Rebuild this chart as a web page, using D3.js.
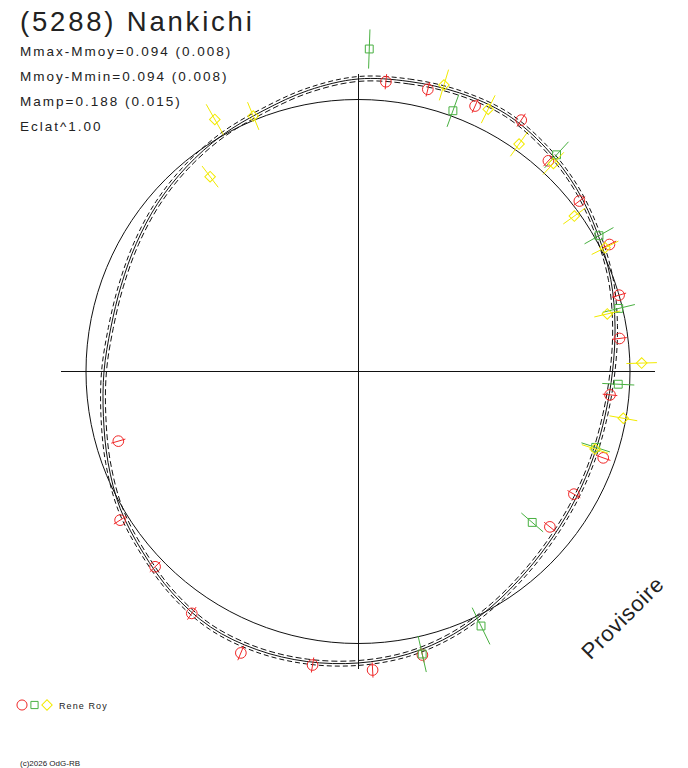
<!DOCTYPE html>
<html><head><meta charset="utf-8">
<script src="https://cdn.jsdelivr.net/npm/d3@7"></script>
<style>body{margin:0;background:#fff}svg{display:block}text{font-family:"Liberation Sans",Arial,sans-serif;fill:#222}</style>
</head><body><svg id="c" width="688" height="768"></svg>
<script>
// ---- data (angle in degrees from top, clockwise; value = relative brightness radius) ----
const fitAngles = [0,10,20,30,40,50,60,70,80,90,100,110,120,130,140,150,160,170,180,190,200,210,220,230,240,250,260,270,280,290,300,310,320,330,340,350];
const fitValues = [1.0754,1.0827,1.0901,1.0919,1.0735,1.0478,1.0165,0.9890,0.9596,0.9357,0.9228,0.9210,0.9265,0.9393,0.9614,0.9926,1.0276,1.0551,1.0717,1.0827,1.0882,1.0846,1.0625,1.0331,1.0092,0.9779,0.9504,0.9338,0.9228,0.9265,0.9412,0.9614,0.9816,1.0018,1.0202,1.0496];
const fitErr = 0.009;

const redAngles = [5.5,13.9,23.8,33.0,42.1,52.4,63.2,73.7,82.8,95.3,109.4,119.6,129.0,167.2,177.2,188.8,202.6,214.5,226.1,238.0,253.8];
const redValues = [1.0703,1.0687,1.0667,1.1019,1.0441,1.0272,1.0356,1.0000,0.9690,0.9305,0.9559,0.9129,0.9077,1.0688,1.0988,1.0919,1.1207,1.0790,1.0353,1.0313,0.9176];
const redErr    = [0.028,0.027,0.027,0.028,0.027,0.027,0.028,0.027,0.027,0.027,0.028,0.027,0.027,0.028,0.028,0.028,0.029,0.028,0.027,0.027,0.027];

const greenAngles = [2.0,20.0,42.5,60.6,76.4,92.8,107.7,130.9,154.2,167.2];
const greenValues = [1.1864,1.0202,1.0805,1.0170,0.9863,0.9580,0.9173,0.8474,1.0393,1.0651];
const greenErr    = [0.072,0.063,0.065,0.061,0.061,0.059,0.055,0.053,0.075,0.068];

const yellowAngles = [330.4,337.7,322.8,16.7,26.4,35.3,43.2,54.3,63.4,77.0,88.3,100.0,108.1];
const yellowValues = [1.0658,1.0151,0.8993,1.0997,1.0765,1.0246,1.0496,0.9794,1.0158,0.9406,1.0434,0.9904,0.9167];
const yellowErr    = [0.064,0.055,0.049,0.059,0.057,0.055,0.056,0.050,0.055,0.049,0.056,0.052,0.051];

const axisExtent = 1.093;
const title = "(5288) Nankichi";
const infoLines = ["Mmax-Mmoy=0.094 (0.008)","Mmoy-Mmin=0.094 (0.008)","Mamp=0.188 (0.015)","Eclat^1.00"];
const observer = "Rene Roy";
const stamp = "Provisoire";
const footer = "(c)2026 OdG-RB";

// ---- drawing ----
const cx = 358, cy = 371.5, R = 272;
const colors = {red:"#f02828", green:"#48b040", yellow:"#f2ea00"};
const svg = d3.select("#c");
const rScale = d3.scaleLinear().domain([0,1]).range([0,R]);
const aScale = d3.scaleLinear().domain([0,360]).range([0,2*Math.PI]);
const g = svg.append("g").attr("transform",`translate(${cx},${cy})`);

// axes
[[0,180],[90,270]].forEach(([a1,a2])=>{
  const p1 = d3.pointRadial(aScale(a1), rScale(axisExtent));
  const p2 = d3.pointRadial(aScale(a2), rScale(axisExtent));
  g.append("line").attr("x1",p1[0]).attr("y1",p1[1]).attr("x2",p2[0]).attr("y2",p2[1])
   .attr("stroke","#111").attr("stroke-width",1).attr("shape-rendering","crispEdges");
});

// reference circle
g.append("circle").attr("r", rScale(1)).attr("fill","none").attr("stroke","#111").attr("stroke-width",1);

// fit and envelope
const fit = fitAngles.map((a,i)=>({a, v:fitValues[i]}));
const radial = d3.lineRadial().angle(d=>aScale(d.a)).radius(d=>rScale(d.v)).curve(d3.curveCatmullRomClosed.alpha(0.5));
[fitErr, -fitErr].forEach((e,k)=>{
  g.append("path").datum(fit.map(d=>({a:d.a, v:d.v+e})))
   .attr("d", radial).attr("fill","none").attr("stroke","#111").attr("stroke-width",1)
   .attr("stroke-dasharray", k? "6,3":"5,3");
});
g.append("path").datum(fit).attr("d", radial).attr("fill","none").attr("stroke","#111").attr("stroke-width",1);

// data series
function series(angles, values, errs, color, type){
  const data = angles.map((a,i)=>({a, v:values[i], e:errs[i]}));
  const grp = g.append("g");
  data.forEach(d=>{
    const p1 = d3.pointRadial(aScale(d.a), rScale(d.v-d.e));
    const p2 = d3.pointRadial(aScale(d.a), rScale(d.v+d.e));
    grp.append("line").attr("x1",p1[0]).attr("y1",p1[1]).attr("x2",p2[0]).attr("y2",p2[1])
       .attr("stroke",color).attr("stroke-width",1);
  });
  grp.selectAll("path.m").data(data).join("path").attr("class","m")
    .attr("d", type==="circle" ? d3.symbol(d3.symbolCircle, 90)() : d3.symbol(d3.symbolSquare, type==="square"?62:56)())
    .attr("transform", d=>{ const p = d3.pointRadial(aScale(d.a), rScale(d.v)); return `translate(${p[0]},${p[1]})` + (type==="diamond"?" rotate(45)":""); })
    .attr("fill","none").attr("stroke",color).attr("stroke-width",1);
}
series(redAngles, redValues, redErr, colors.red, "circle");
series(greenAngles, greenValues, greenErr, colors.green, "square");
series(yellowAngles, yellowValues, yellowErr, colors.yellow, "diamond");

// texts
svg.append("text").attr("x",20).attr("y",31).attr("font-size",27.5).attr("letter-spacing",2.8).text(title);
infoLines.forEach((t,i)=>{
  svg.append("text").attr("x",20).attr("y",56+i*25).attr("font-size",13.5).attr("letter-spacing",2.0).text(t);
});
svg.append("text").attr("transform","translate(628,623) rotate(-45)").attr("text-anchor","middle")
  .attr("font-size",22).attr("letter-spacing",0.8).text(stamp);

// legend
const lg = svg.append("g").attr("transform","translate(22,705)");
lg.append("path").attr("d", d3.symbol(d3.symbolCircle, 80)()).attr("fill","none").attr("stroke",colors.red);
lg.append("path").attr("transform","translate(12.5,0)").attr("d", d3.symbol(d3.symbolSquare, 52)()).attr("fill","none").attr("stroke",colors.green);
lg.append("path").attr("transform","translate(25,0) rotate(45)").attr("d", d3.symbol(d3.symbolSquare, 54)()).attr("fill","none").attr("stroke",colors.yellow);
svg.append("text").attr("x",59).attr("y",709).attr("font-size",9).attr("letter-spacing",1.1).text(observer);
svg.append("text").attr("x",20).attr("y",766).attr("font-size",8).text(footer);
</script></body></html>
